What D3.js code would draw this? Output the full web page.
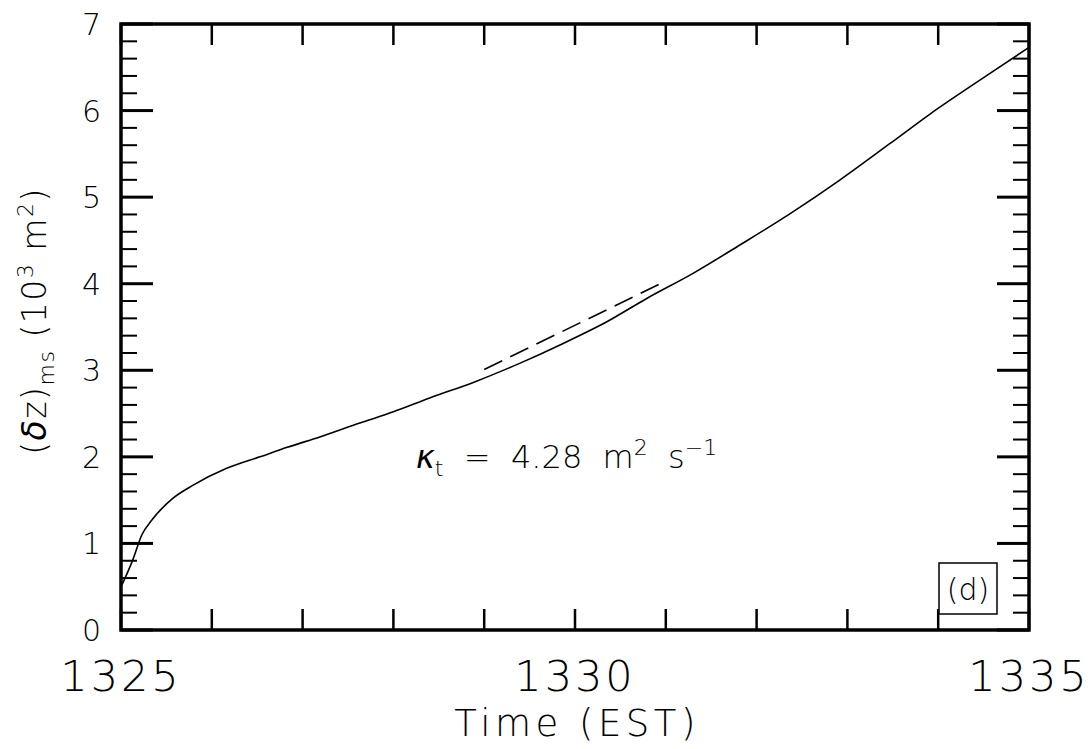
<!DOCTYPE html>
<html>
<head>
<meta charset="utf-8">
<script src="https://cdn.jsdelivr.net/npm/d3@7"></script>
<style>
  html, body { margin: 0; padding: 0; background: #fff; }
  svg text { font-family: "DejaVu Sans", "Liberation Sans", sans-serif; font-weight: 200; fill: #000; white-space: pre; }
</style>
</head>
<body>
<svg id="chart" width="1089" height="749"></svg>
<script>
// ---- data ----
const timeValues = [1325.01, 1325.13, 1325.23, 1325.34, 1325.57, 1325.79, 1326.17, 1326.53, 1326.83, 1327.19, 1327.63, 1328.0, 1328.40, 1328.88, 1329.39, 1329.87, 1330.35, 1330.79, 1331.30, 1331.82, 1332.37, 1332.92, 1333.47, 1333.91, 1334.5, 1335.0];
const dzValues   = [0.52, 0.81, 1.10, 1.27, 1.52, 1.67, 1.87, 2.00, 2.11, 2.23, 2.39, 2.52, 2.68, 2.86, 3.08, 3.31, 3.56, 3.83, 4.12, 4.45, 4.81, 5.20, 5.62, 5.96, 6.38, 6.73];
const fitTimes = [1329.0, 1330.96];
const fitValues = [3.01, 4.01];
const xTickLabels = [1325, 1330, 1335];
const yTickLabels = [0, 1, 2, 3, 4, 5, 6, 7];
const xDomain = [1325, 1335];
const yDomain = [0, 7];
const panelLabel = "(d)";

// ---- layout ----
const svg = d3.select("#chart");
const L = 121, R = 1029, T = 24, B = 630;
const x = d3.scaleLinear().domain(xDomain).range([L, R]);
const y = d3.scaleLinear().domain(yDomain).range([B, T]);

const xMinor = d3.range(xDomain[0], xDomain[1] + 0.001, 1);
const yMinor = d3.range(0, 7.001, 0.2).map(v => +v.toFixed(1)).filter(v => Math.abs(v - Math.round(v)) > 1e-6);

// x ticks (bottom and top)
const gx = svg.append("g");
gx.append("g").selectAll("line").data(xMinor).join("line")
  .attr("x1", d => x(d)).attr("x2", d => x(d))
  .attr("y1", B).attr("y2", B - 21)
  .attr("stroke", "#000").attr("stroke-width", 2.5);
gx.append("g").selectAll("line").data(xMinor).join("line")
  .attr("x1", d => x(d)).attr("x2", d => x(d))
  .attr("y1", T).attr("y2", T + 21)
  .attr("stroke", "#000").attr("stroke-width", 2.5);

// y ticks (left and right)
const gy = svg.append("g");
[[L, 1], [R, -1]].forEach(([x0, dir]) => {
  gy.append("g").selectAll("line").data(yTickLabels).join("line")
    .attr("x1", x0).attr("x2", x0 + dir * 32)
    .attr("y1", d => y(d)).attr("y2", d => y(d))
    .attr("stroke", "#000").attr("stroke-width", 3);
  gy.append("g").selectAll("line").data(yMinor).join("line")
    .attr("x1", x0).attr("x2", x0 + dir * 16)
    .attr("y1", d => y(d)).attr("y2", d => y(d))
    .attr("stroke", "#000").attr("stroke-width", 2);
});

// frame
svg.append("rect").attr("x", L).attr("y", T).attr("width", R - L).attr("height", B - T)
  .attr("fill", "none").attr("stroke", "#000").attr("stroke-width", 3.5);

// tick labels
svg.append("g").selectAll("text").data(yTickLabels).join("text")
  .attr("x", 101).attr("y", d => y(d) + 11)
  .attr("text-anchor", "end").attr("font-size", 30)
  .text(d => d);

svg.append("g").selectAll("text").data(xTickLabels).join("text")
  .attr("x", d => x(d)).attr("y", 691)
  .attr("text-anchor", "middle").attr("font-size", 43)
  .attr("letter-spacing", 3)
  .text(d => d);

// axis titles
svg.append("text").attr("x", x(1330) + 2).attr("y", 736)
  .attr("text-anchor", "middle").attr("font-size", 37).attr("letter-spacing", 4.5)
  .text("Time (EST)");

const yl = svg.append("text")
  .attr("transform", "translate(46,321) rotate(-90)")
  .attr("text-anchor", "middle").attr("font-size", 33).attr("letter-spacing", 1.5);
yl.append("tspan").text("(");
yl.append("tspan").attr("font-style", "italic").text("δ");
yl.append("tspan").text("z)");
yl.append("tspan").attr("font-size", 22).attr("dy", 8).text("ms");
yl.append("tspan").attr("dy", -8).text(" (10");
yl.append("tspan").attr("font-size", 22).attr("dy", -13).text("3");
yl.append("tspan").attr("dy", 13).text(" m");
yl.append("tspan").attr("font-size", 22).attr("dy", -13).text("2");
yl.append("tspan").attr("dy", 13).text(")");

// data curve
const pts = timeValues.map((t, i) => [t, dzValues[i]]);
const line = d3.line().x(d => x(d[0])).y(d => y(d[1])).curve(d3.curveMonotoneX);
svg.append("path").datum(pts).attr("d", line)
  .attr("fill", "none").attr("stroke", "#000").attr("stroke-width", 1.6);

// fit line (dashed)
const fitPts = fitTimes.map((t, i) => [t, fitValues[i]]);
svg.append("path").datum(fitPts).attr("d", d3.line().x(d => x(d[0])).y(d => y(d[1])))
  .attr("fill", "none").attr("stroke", "#000").attr("stroke-width", 1.6)
  .attr("stroke-dasharray", "20,9");

// annotation
const ann = svg.append("text").attr("x", 416).attr("y", 468).attr("font-size", 32);
ann.append("tspan").attr("font-style", "italic").text("κ");
ann.append("tspan").attr("font-size", 22).attr("dy", 8).text("t");
ann.append("tspan").attr("dy", -8).text("  =  4.28  m");
ann.append("tspan").attr("font-size", 22).attr("dy", -13).text("2");
ann.append("tspan").attr("dy", 13).text("  s");
ann.append("tspan").attr("font-size", 22).attr("dy", -13).text("−1");

// panel label box
svg.append("rect").attr("x", 939).attr("y", 563).attr("width", 58).attr("height", 51)
  .attr("fill", "#fff").attr("stroke", "#000").attr("stroke-width", 1.5);
svg.append("text").attr("x", 968).attr("y", 600).attr("text-anchor", "middle")
  .attr("font-size", 30).text(panelLabel);
</script>
</body>
</html>
